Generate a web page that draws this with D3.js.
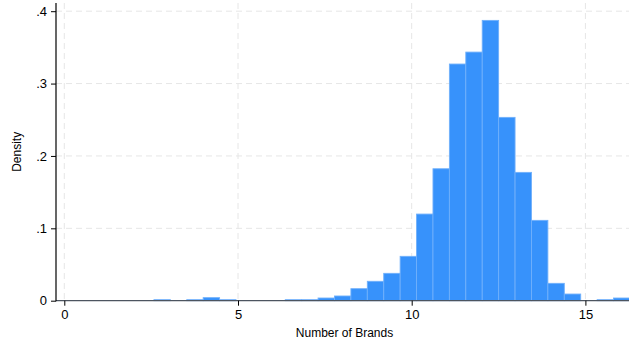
<!DOCTYPE html>
<html>
<head>
<meta charset="utf-8">
<script src="https://cdn.jsdelivr.net/npm/d3@7"></script>
<style>
  html, body { margin: 0; padding: 0; background: #ffffff; }
  svg { display: block; font-family: "Liberation Sans", Arial, sans-serif; }
</style>
</head>
<body>
<svg id="chart" width="629" height="345"></svg>
<script>
// Histogram of the number of brands (density scale)
const binStart = 2.58;
const binWidth = 0.4725;
const densities = [
  0.0014, 0, 0.0014, 0.0042, 0.0014, 0, 0, 0, 0.0014, 0.0014,
  0.0037, 0.0065, 0.0166, 0.0268, 0.0378, 0.0613, 0.1197, 0.1823, 0.327, 0.3435,
  0.3873, 0.2533, 0.1773, 0.111, 0.024, 0.0092, 0, 0.0014, 0.0037
];
const xTicks = [0, 5, 10, 15];
const yTicks = [0, 0.1, 0.2, 0.3, 0.4];
const yTickLabels = ["0", ".1", ".2", ".3", ".4"];
const xTitle = "Number of Brands";
const yTitle = "Density";

const bins = densities.map((d, i) => ({
  x0: binStart + i * binWidth,
  x1: binStart + (i + 1) * binWidth,
  density: d
}));

const W = 629, H = 345;
const plotLeft = 56, plotTop = 3, plotBottom = 300.7, plotRight = 629;

const x = d3.scaleLinear().domain([0, 15]).range([64.3, 585.4]);
const y = d3.scaleLinear().domain([0, 0.4]).range([plotBottom, 11.2]);

const svg = d3.select("#chart");

svg.append("defs").append("clipPath").attr("id", "plotClip")
  .append("rect")
  .attr("x", plotLeft).attr("y", 0)
  .attr("width", plotRight - plotLeft).attr("height", plotBottom + 1);

// Grid lines
const grid = svg.append("g");
grid.selectAll("line.h").data(yTicks.slice(1)).join("line")
  .attr("x1", plotLeft).attr("x2", plotRight)
  .attr("y1", d => y(d)).attr("y2", d => y(d))
  .attr("stroke", "#e6e6e6").attr("stroke-width", 1)
  .attr("stroke-dasharray", "6,4");
grid.selectAll("line.v").data(xTicks).join("line")
  .attr("x1", d => x(d)).attr("x2", d => x(d))
  .attr("y1", plotTop).attr("y2", plotBottom)
  .attr("stroke", "#e6e6e6").attr("stroke-width", 1)
  .attr("stroke-dasharray", "6,4");

// Bars
svg.append("g").attr("clip-path", "url(#plotClip)")
  .selectAll("rect").data(bins.filter(b => b.density > 0)).join("rect")
  .attr("x", d => x(d.x0))
  .attr("y", d => y(d.density))
  .attr("width", d => x(d.x1) - x(d.x0))
  .attr("height", d => y(0) - y(d.density))
  .attr("fill", "#3792fb")
  .attr("stroke", "#70b0fb")
  .attr("stroke-width", 0.9);

// Baseline
svg.append("line")
  .attr("x1", plotLeft).attr("x2", plotRight)
  .attr("y1", plotBottom).attr("y2", plotBottom)
  .attr("stroke", "#4d5560").attr("stroke-width", 1.3);

// X axis
const xAxis = d3.axisBottom(x).tickValues(xTicks).tickSize(5).tickPadding(4)
  .tickFormat(d3.format("d"));
const gx = svg.append("g").attr("transform", `translate(0,${plotBottom})`).call(xAxis);
gx.select(".domain").remove();
gx.selectAll(".tick line").attr("stroke", "#000");
gx.selectAll(".tick text").attr("font-size", 13).attr("fill", "#000")
  .attr("font-family", "Liberation Sans, Arial, sans-serif");

// Y axis
const yAxis = d3.axisLeft(y).tickValues(yTicks).tickSize(5).tickPadding(4)
  .tickFormat((d, i) => yTickLabels[i]);
const gy = svg.append("g").attr("transform", `translate(${plotLeft},0)`).call(yAxis);
gy.select(".domain").remove();
gy.append("line").attr("x1", 0).attr("x2", 0)
  .attr("y1", plotTop).attr("y2", plotBottom + 0.5)
  .attr("stroke", "#000").attr("stroke-width", 1.2);
gy.selectAll(".tick line").attr("stroke", "#000");
gy.selectAll(".tick text").attr("font-size", 13).attr("fill", "#000")
  .attr("font-family", "Liberation Sans, Arial, sans-serif");

// Titles
svg.append("text")
  .attr("x", (plotLeft + plotRight) / 2 + 2).attr("y", 337)
  .attr("text-anchor", "middle").attr("font-size", 12).attr("fill", "#000")
  .text(xTitle);
svg.append("text")
  .attr("transform", `translate(21,${(plotTop + plotBottom) / 2}) rotate(-90)`)
  .attr("text-anchor", "middle").attr("font-size", 12).attr("fill", "#000")
  .text(yTitle);
</script>
</body>
</html>
